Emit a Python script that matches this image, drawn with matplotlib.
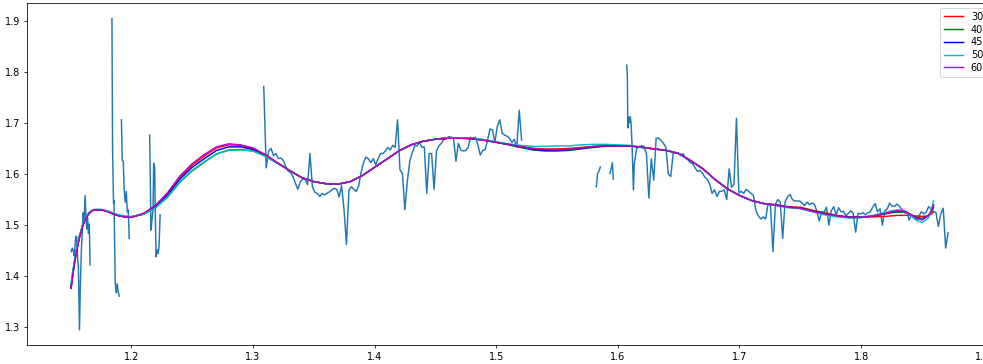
import numpy as np
import matplotlib.pyplot as plt

# measured spectrum, split into the pieces where there is data
seg_a_x = [1.1505, 1.1515, 1.1522, 1.1530, 1.1544, 1.1551, 1.1558, 1.1565, 1.1574, 1.1582,
           1.1590, 1.1597, 1.1604, 1.1612, 1.1620, 1.1627, 1.1634, 1.1641, 1.1648, 1.1655, 1.1661]
seg_a_y = [1.448, 1.455, 1.450, 1.440, 1.478, 1.476, 1.436, 1.420, 1.295, 1.390,
           1.452, 1.486, 1.524, 1.506, 1.558, 1.520, 1.492, 1.515, 1.484, 1.502, 1.422]

seg_b_x = [1.1841, 1.1846, 1.1854, 1.1858, 1.1868, 1.1876, 1.1884, 1.1892, 1.1901]
seg_b_y = [1.904, 1.650, 1.543, 1.548, 1.387, 1.367, 1.385, 1.370, 1.361]

seg_c_x = [1.1919, 1.1925, 1.1934, 1.1942, 1.1950, 1.1959, 1.1967, 1.1975, 1.1983]
seg_c_y = [1.706, 1.627, 1.625, 1.566, 1.545, 1.566, 1.526, 1.530, 1.474]

seg_d_x = [1.2151, 1.2162, 1.2171, 1.2179, 1.2184, 1.2192, 1.2198, 1.2204, 1.2212, 1.2220, 1.2228, 1.2237]
seg_d_y = [1.676, 1.490, 1.513, 1.530, 1.621, 1.614, 1.513, 1.438, 1.452, 1.444, 1.458, 1.520]

step = 0.002
seg_e_start = 1.3089
seg_e_y = [1.771, 1.612, 1.645, 1.650, 1.636, 1.640, 1.630, 1.631, 1.627, 1.615,
           1.606, 1.603, 1.595, 1.582, 1.570, 1.584, 1.590, 1.590, 1.579, 1.640,
           1.575, 1.564, 1.562, 1.556, 1.562, 1.559, 1.562, 1.565, 1.569, 1.572,
           1.570, 1.555, 1.577, 1.530, 1.462, 1.568, 1.575, 1.570, 1.566, 1.576,
           1.603, 1.622, 1.633, 1.630, 1.622, 1.630, 1.618, 1.630, 1.640, 1.640,
           1.645, 1.652, 1.647, 1.656, 1.652, 1.706, 1.608, 1.601, 1.530, 1.585,
           1.624, 1.641, 1.655, 1.655, 1.662, 1.652, 1.653, 1.562, 1.640, 1.640,
           1.570, 1.645, 1.655, 1.660, 1.668, 1.668, 1.673, 1.672, 1.670, 1.625,
           1.660, 1.647, 1.645, 1.646, 1.652, 1.672, 1.670, 1.672, 1.657, 1.637,
           1.646, 1.648, 1.666, 1.688, 1.686, 1.662, 1.693, 1.706, 1.680, 1.676,
           1.674, 1.670, 1.662, 1.668, 1.652, 1.725, 1.666]

seg_f_x = [1.5821, 1.5825, 1.5833, 1.5844, 1.5856]
seg_f_y = [1.575, 1.578, 1.601, 1.605, 1.614]

seg_g_x = [1.5935, 1.5943, 1.5955, 1.5963]
seg_g_y = [1.601, 1.608, 1.622, 1.590]

# tall spike at the start of the last piece
seg_h0_x = [1.6073, 1.6078, 1.6082, 1.6088, 1.6095, 1.6103, 1.6110, 1.6117, 1.6123, 1.6128]
seg_h0_y = [1.813, 1.794, 1.690, 1.712, 1.700, 1.712, 1.694, 1.656, 1.610, 1.569]

seg_h_start = 1.6135
seg_h_y = [1.620, 1.650, 1.654, 1.655, 1.654, 1.640,
           1.553, 1.630, 1.588, 1.670, 1.670, 1.666, 1.660, 1.652, 1.600, 1.595,
           1.641, 1.642, 1.641, 1.636, 1.640, 1.631, 1.628, 1.622, 1.620, 1.612,
           1.605, 1.607, 1.602, 1.594, 1.590, 1.580, 1.562, 1.569, 1.556, 1.566,
           1.566, 1.569, 1.550, 1.610, 1.574, 1.580, 1.709, 1.563, 1.566, 1.562,
           1.570, 1.566, 1.562, 1.558, 1.528, 1.518, 1.512, 1.516, 1.512, 1.542,
           1.538, 1.448, 1.540, 1.550, 1.545, 1.474, 1.546, 1.555, 1.560, 1.550,
           1.547, 1.547, 1.547, 1.543, 1.538, 1.545, 1.540, 1.543, 1.541, 1.528,
           1.508, 1.526, 1.525, 1.535, 1.500, 1.528, 1.536, 1.520, 1.534, 1.526,
           1.527, 1.518, 1.523, 1.528, 1.523, 1.486, 1.523, 1.522, 1.524, 1.520,
           1.524, 1.526, 1.535, 1.542, 1.526, 1.532, 1.500, 1.528, 1.532, 1.543,
           1.537, 1.537, 1.541, 1.537, 1.530, 1.527, 1.527, 1.510, 1.520, 1.517,
           1.510, 1.518, 1.526, 1.522, 1.525, 1.536, 1.532, 1.526, 1.525, 1.497,
           1.522, 1.533, 1.455, 1.485]

# smooth fits for each setting
fit_x = [1.1505, 1.1525, 1.155, 1.1575, 1.16, 1.1625, 1.165, 1.1675, 1.17, 1.175,
         1.18, 1.185, 1.19, 1.195, 1.20, 1.21, 1.22, 1.23, 1.24, 1.25,
         1.26, 1.27, 1.28, 1.29, 1.30, 1.31, 1.32, 1.33, 1.34, 1.35,
         1.36, 1.37, 1.38, 1.39, 1.40, 1.41, 1.42, 1.43, 1.44, 1.45,
         1.46, 1.47, 1.48, 1.49, 1.50, 1.51, 1.52, 1.53, 1.54, 1.55,
         1.56, 1.57, 1.58, 1.59, 1.60, 1.61, 1.62, 1.63, 1.64, 1.65,
         1.66, 1.67, 1.68, 1.69, 1.70, 1.71, 1.72, 1.73, 1.74, 1.75,
         1.76, 1.77, 1.78, 1.79, 1.80, 1.81, 1.82, 1.825, 1.83, 1.835,
         1.84, 1.845, 1.85, 1.855, 1.8575, 1.8595]

fit_30 = [1.376, 1.413, 1.449, 1.477, 1.498, 1.513, 1.522, 1.528, 1.530, 1.530,
          1.527, 1.522, 1.518, 1.516, 1.515, 1.522, 1.537, 1.561, 1.593, 1.617,
          1.635, 1.651, 1.657, 1.656, 1.650, 1.638, 1.622, 1.607, 1.593, 1.585,
          1.581, 1.580, 1.585, 1.597, 1.613, 1.629, 1.645, 1.657, 1.664, 1.668,
          1.670, 1.670, 1.669, 1.666, 1.662, 1.658, 1.654, 1.650, 1.649, 1.649,
          1.650, 1.652, 1.654, 1.655, 1.655, 1.655, 1.652, 1.649, 1.646, 1.640,
          1.626, 1.610, 1.589, 1.571, 1.558, 1.548, 1.542, 1.540, 1.536, 1.535,
          1.529, 1.524, 1.519, 1.516, 1.516, 1.516, 1.517, 1.518, 1.519, 1.519,
          1.519, 1.518, 1.517, 1.518, 1.521, 1.526]

fit_40 = [1.381, 1.417, 1.452, 1.479, 1.499, 1.513, 1.522, 1.528, 1.530, 1.530,
          1.527, 1.522, 1.518, 1.516, 1.516, 1.521, 1.534, 1.555, 1.584, 1.606,
          1.623, 1.639, 1.647, 1.648, 1.645, 1.635, 1.621, 1.607, 1.593, 1.585,
          1.581, 1.580, 1.585, 1.597, 1.613, 1.629, 1.645, 1.657, 1.664, 1.668,
          1.671, 1.671, 1.670, 1.667, 1.662, 1.657, 1.652, 1.647, 1.645, 1.645,
          1.646, 1.649, 1.652, 1.654, 1.655, 1.655, 1.652, 1.649, 1.646, 1.640,
          1.626, 1.610, 1.589, 1.571, 1.558, 1.548, 1.542, 1.539, 1.535, 1.533,
          1.528, 1.523, 1.518, 1.515, 1.515, 1.518, 1.522, 1.524, 1.525, 1.525,
          1.521, 1.516, 1.513, 1.518, 1.524, 1.534]

fit_45 = [1.377, 1.414, 1.450, 1.478, 1.498, 1.513, 1.522, 1.528, 1.530, 1.530,
          1.527, 1.522, 1.518, 1.516, 1.516, 1.522, 1.536, 1.559, 1.590, 1.613,
          1.630, 1.646, 1.653, 1.653, 1.648, 1.637, 1.622, 1.607, 1.593, 1.585,
          1.581, 1.580, 1.585, 1.597, 1.613, 1.629, 1.645, 1.657, 1.664, 1.668,
          1.670, 1.670, 1.669, 1.666, 1.662, 1.658, 1.653, 1.648, 1.646, 1.646,
          1.647, 1.650, 1.653, 1.655, 1.655, 1.655, 1.652, 1.649, 1.646, 1.640,
          1.626, 1.610, 1.589, 1.571, 1.558, 1.548, 1.542, 1.539, 1.535, 1.533,
          1.527, 1.522, 1.518, 1.515, 1.515, 1.518, 1.523, 1.526, 1.527, 1.527,
          1.522, 1.514, 1.511, 1.518, 1.526, 1.538]

fit_50 = [1.386, 1.420, 1.455, 1.481, 1.501, 1.515, 1.524, 1.529, 1.531, 1.531,
          1.528, 1.524, 1.520, 1.518, 1.517, 1.521, 1.534, 1.556, 1.585, 1.607,
          1.624, 1.639, 1.646, 1.647, 1.645, 1.635, 1.621, 1.607, 1.593, 1.585,
          1.581, 1.580, 1.585, 1.597, 1.613, 1.629, 1.645, 1.657, 1.664, 1.668,
          1.671, 1.671, 1.670, 1.667, 1.663, 1.659, 1.656, 1.654, 1.654, 1.655,
          1.655, 1.657, 1.658, 1.658, 1.657, 1.656, 1.652, 1.649, 1.646, 1.640,
          1.626, 1.610, 1.589, 1.571, 1.558, 1.548, 1.542, 1.538, 1.534, 1.532,
          1.526, 1.520, 1.516, 1.514, 1.515, 1.519, 1.525, 1.528, 1.530, 1.528,
          1.520, 1.510, 1.505, 1.513, 1.526, 1.548]

fit_60 = [1.376, 1.413, 1.449, 1.477, 1.498, 1.513, 1.522, 1.528, 1.530, 1.530,
          1.527, 1.522, 1.518, 1.516, 1.515, 1.523, 1.539, 1.564, 1.596, 1.620,
          1.638, 1.653, 1.659, 1.657, 1.651, 1.638, 1.622, 1.607, 1.593, 1.585,
          1.581, 1.580, 1.585, 1.597, 1.613, 1.629, 1.645, 1.657, 1.664, 1.668,
          1.670, 1.670, 1.669, 1.666, 1.662, 1.658, 1.654, 1.650, 1.648, 1.647,
          1.648, 1.651, 1.654, 1.655, 1.655, 1.655, 1.652, 1.649, 1.646, 1.640,
          1.626, 1.610, 1.589, 1.571, 1.558, 1.548, 1.542, 1.539, 1.535, 1.533,
          1.527, 1.522, 1.518, 1.515, 1.515, 1.518, 1.523, 1.526, 1.528, 1.527,
          1.522, 1.514, 1.510, 1.518, 1.526, 1.540]

fit_labels = ['30', '40', '45', '50', '60']
fit_colors = ['r', 'g', 'b', 'c', 'm']
fits = [fit_30, fit_40, fit_45, fit_50, fit_60]

# join the pieces, NaN breaks the line between them
seg_e_x = seg_e_start + step * np.arange(len(seg_e_y))
seg_h_x = seg_h_start + step * np.arange(len(seg_h_y))
gap = [np.nan]
wl = np.concatenate([seg_a_x, gap, seg_b_x, gap, seg_c_x, gap, seg_d_x, gap,
                     seg_e_x, gap, seg_f_x, gap, seg_g_x, gap, seg_h0_x, seg_h_x])
flux = np.concatenate([seg_a_y, gap, seg_b_y, gap, seg_c_y, gap, seg_d_y, gap,
                       seg_e_y, gap, seg_f_y, gap, seg_g_y, gap, seg_h0_y, seg_h_y])

fig = plt.figure(figsize=(983 / 70, 364 / 70), dpi=70)
ax = fig.add_axes([0.0277, 0.0511, 0.9814, 0.9405])

ax.plot(wl, flux)
for lab, col, fy in zip(fit_labels, fit_colors, fits):
    ax.plot(fit_x, fy, color=col, label=lab)

ax.legend(loc='upper right', labelspacing=0.28)
fig.savefig('out.png', dpi=70)
